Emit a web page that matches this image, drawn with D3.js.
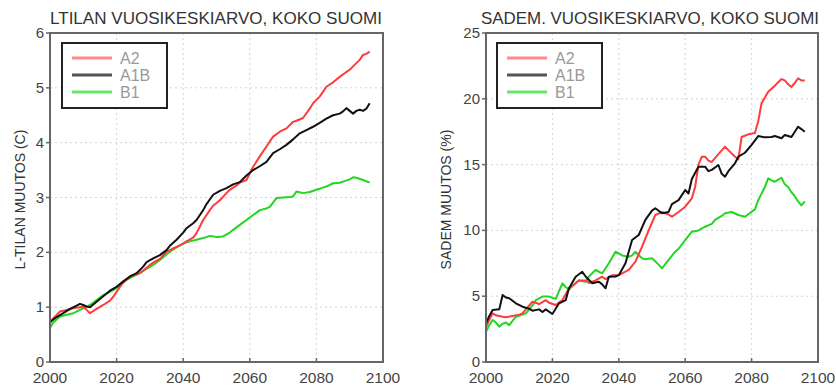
<!DOCTYPE html>
<html>
<head>
<meta charset="utf-8">
<script src="https://cdn.jsdelivr.net/npm/d3@7"></script>
<style>
  body { margin: 0; background: #fff; }
  svg { display: block; font-family: "Liberation Sans", Arial, sans-serif; }
</style>
</head>
<body>
<div id="chart"></div>
<script>
// scenario names and colours
var scenarios = ["A2", "A1B", "B1"];
var colors = ["#ff3b3b", "#111111", "#22d622"];
var legendColors = ["#ff8a8a", "#555555", "#66e666"];

var xTicks = [2000, 2020, 2040, 2060, 2080, 2100];
var tempTicks = [0, 1, 2, 3, 4, 5, 6];
var precTicks = [0, 5, 10, 15, 20, 25];

// temperature change (C), [year, value]
var tempA2 = [[2000,0.71],[2001,0.8],[2003,0.92],[2005,0.95],[2007,0.98],[2009,1.0],[2010,1.01],[2011,0.95],[2012,0.89],[2014,0.97],[2016,1.04],[2018,1.12],[2019,1.19],[2021,1.37],[2022,1.45],[2024,1.56],[2026,1.6],[2027,1.62],[2029,1.72],[2030,1.77],[2032,1.85],[2033,1.88],[2035,2.01],[2037,2.07],[2038,2.1],[2040,2.16],[2041,2.2],[2043,2.27],[2044,2.35],[2046,2.59],[2048,2.77],[2049,2.85],[2051,2.95],[2053,3.08],[2054,3.14],[2056,3.22],[2057,3.27],[2059,3.32],[2061,3.56],[2063,3.75],[2065,3.93],[2067,4.11],[2069,4.2],[2071,4.26],[2073,4.38],[2074,4.4],[2076,4.45],[2078,4.62],[2079,4.72],[2081,4.84],[2083,5.02],[2085,5.1],[2087,5.2],[2089,5.29],[2090,5.33],[2092,5.45],[2093,5.51],[2094,5.6],[2095,5.62],[2096,5.66]];
var tempA1B = [[2000,0.73],[2002,0.82],[2004,0.89],[2006,0.97],[2008,1.03],[2009,1.06],[2010,1.04],[2011,1.01],[2012,1.0],[2014,1.1],[2016,1.2],[2018,1.3],[2020,1.37],[2022,1.47],[2024,1.56],[2026,1.62],[2028,1.74],[2029,1.82],[2031,1.89],[2033,1.95],[2035,2.04],[2036,2.12],[2038,2.23],[2040,2.36],[2041,2.44],[2043,2.53],[2044,2.59],[2046,2.77],[2047,2.88],[2049,3.05],[2051,3.12],[2053,3.17],[2055,3.24],[2057,3.28],[2059,3.4],[2061,3.5],[2063,3.57],[2065,3.65],[2067,3.81],[2069,3.88],[2071,3.96],[2073,4.06],[2075,4.17],[2077,4.23],[2079,4.29],[2081,4.36],[2083,4.44],[2085,4.5],[2087,4.53],[2088,4.57],[2089,4.63],[2090,4.58],[2091,4.53],[2092,4.58],[2093,4.6],[2094,4.58],[2095,4.62],[2096,4.72]];
var tempB1 = [[2000,0.62],[2001,0.72],[2003,0.83],[2005,0.86],[2007,0.89],[2009,0.95],[2010,0.98],[2012,1.04],[2014,1.13],[2016,1.22],[2018,1.28],[2019,1.31],[2021,1.4],[2023,1.5],[2025,1.56],[2027,1.62],[2029,1.7],[2031,1.77],[2033,1.86],[2035,1.96],[2036,2.01],[2038,2.09],[2040,2.16],[2042,2.2],[2044,2.23],[2046,2.26],[2048,2.3],[2050,2.28],[2052,2.29],[2054,2.36],[2055,2.41],[2057,2.5],[2059,2.59],[2061,2.68],[2063,2.77],[2065,2.8],[2066,2.83],[2068,2.99],[2070,3.0],[2072,3.01],[2073,3.02],[2074,3.11],[2076,3.08],[2078,3.1],[2080,3.14],[2082,3.18],[2083,3.2],[2085,3.26],[2087,3.27],[2088,3.29],[2090,3.33],[2091,3.37],[2092,3.36],[2094,3.32],[2096,3.27]];

// precipitation change (%), [year, value]
var precA2 = [[2000,2.68],[2001,3.2],[2002,3.7],[2003,3.55],[2005,3.44],[2006,3.4],[2008,3.5],[2010,3.6],[2011,3.7],[2012,4.0],[2014,4.58],[2015,4.5],[2016,4.4],[2018,4.7],[2019,4.5],[2021,4.33],[2023,4.7],[2025,5.6],[2027,5.98],[2028,6.2],[2030,6.2],[2031,6.0],[2033,6.2],[2035,6.48],[2036,6.3],[2038,6.6],[2040,6.6],[2041,6.74],[2043,7.0],[2045,7.62],[2047,8.76],[2049,10.0],[2051,11.17],[2053,11.4],[2055,11.2],[2056,11.04],[2058,11.4],[2060,11.8],[2062,12.44],[2063,13.3],[2064,15.0],[2065,15.6],[2066,15.6],[2067,15.3],[2068,15.2],[2070,15.8],[2072,16.36],[2073,16.1],[2075,15.6],[2076,15.4],[2077,17.1],[2079,17.3],[2081,17.4],[2082,18.3],[2083,19.66],[2085,20.54],[2087,21.0],[2089,21.5],[2090,21.4],[2091,21.1],[2092,20.9],[2093,21.2],[2094,21.55],[2095,21.4],[2096,21.4]];
var precA1B = [[2000,2.94],[2001,3.5],[2002,3.95],[2004,4.0],[2005,5.09],[2006,4.9],[2007,4.85],[2009,4.46],[2011,4.2],[2013,4.05],[2014,3.9],[2016,4.0],[2017,3.8],[2018,4.0],[2020,3.65],[2022,4.46],[2024,4.7],[2025,5.6],[2027,6.48],[2029,6.86],[2030,6.5],[2032,5.98],[2034,6.1],[2035,5.9],[2036,5.6],[2037,6.48],[2039,6.5],[2040,6.6],[2042,7.5],[2044,9.27],[2046,9.65],[2048,10.8],[2050,11.5],[2051,11.68],[2053,11.3],[2055,11.4],[2056,12.0],[2058,12.3],[2060,13.07],[2061,12.8],[2062,13.9],[2064,14.84],[2066,14.84],[2067,14.5],[2068,14.6],[2070,14.97],[2071,14.3],[2072,14.08],[2073,14.5],[2075,15.1],[2076,15.6],[2078,15.9],[2080,16.5],[2082,17.17],[2084,17.07],[2086,17.1],[2087,17.17],[2089,17.0],[2090,17.25],[2092,17.1],[2094,17.88],[2095,17.7],[2096,17.5]];
var precB1 = [[2000,2.3],[2001,2.8],[2002,3.19],[2003,3.0],[2004,2.68],[2005,2.9],[2006,3.0],[2007,2.8],[2009,3.44],[2011,3.6],[2012,3.7],[2014,4.3],[2015,4.7],[2017,4.97],[2019,4.97],[2021,4.8],[2023,5.98],[2024,5.7],[2025,5.5],[2027,6.0],[2028,6.2],[2030,6.1],[2031,6.5],[2033,6.99],[2035,6.74],[2037,7.5],[2039,8.38],[2041,8.1],[2043,8.0],[2044,8.1],[2045,8.38],[2047,7.88],[2048,7.8],[2050,7.88],[2052,7.4],[2053,7.12],[2055,7.76],[2057,8.38],[2058,8.6],[2060,9.27],[2062,9.9],[2064,10.0],[2066,10.28],[2068,10.5],[2069,10.8],[2071,11.1],[2072,11.3],[2074,11.4],[2076,11.17],[2078,11.04],[2080,11.42],[2081,11.6],[2082,12.3],[2084,13.3],[2085,13.96],[2086,13.8],[2087,13.7],[2089,14.0],[2090,13.5],[2091,13.3],[2092,12.9],[2093,12.6],[2094,12.2],[2095,11.9],[2096,12.2]];

var panels = [
  { title: "LTILAN VUOSIKESKIARVO, KOKO SUOMI", ylabel: "L-TILAN MUUTOS (C)",
    left: 50, right: 383, top: 33, bottom: 362, ymax: 6, yTicks: tempTicks,
    series: [tempA2, tempA1B, tempB1], titleX: 50, titleW: 332, ylabX: 20, legX: 62 },
  { title: "SADEM. VUOSIKESKIARVO, KOKO SUOMI", ylabel: "SADEM MUUTOS (%)",
    left: 486, right: 818, top: 33, bottom: 362, ymax: 25, yTicks: precTicks,
    series: [precA2, precA1B, precB1], titleX: 481, titleW: 338, ylabX: 446, legX: 497 }
];

var svg = d3.select("#chart").append("svg")
    .attr("width", 836)
    .attr("height", 390);

panels.forEach(function (p) {
  var x = d3.scaleLinear().domain([2000, 2100]).range([p.left, p.right]);
  var y = d3.scaleLinear().domain([0, p.ymax]).range([p.bottom, p.top]);
  var g = svg.append("g");

  // dotted grid
  g.selectAll(".vgrid").data(xTicks.slice(1, -1)).enter().append("line")
      .attr("x1", d => x(d)).attr("x2", d => x(d))
      .attr("y1", p.top).attr("y2", p.bottom)
      .attr("stroke", "#d4d4d4").attr("stroke-width", 1)
      .attr("stroke-dasharray", "2,3");
  g.selectAll(".hgrid").data(p.yTicks.slice(1, -1)).enter().append("line")
      .attr("x1", p.left).attr("x2", p.right)
      .attr("y1", d => y(d)).attr("y2", d => y(d))
      .attr("stroke", "#d4d4d4").attr("stroke-width", 1)
      .attr("stroke-dasharray", "2,3");

  // data lines, B1 first so A2 / A1B sit on top
  var line = d3.line().x(d => x(d[0])).y(d => y(d[1]));
  [2, 0, 1].forEach(function (i) {
    g.append("path")
        .datum(p.series[i])
        .attr("d", line)
        .attr("fill", "none")
        .attr("stroke", colors[i])
        .attr("stroke-width", 2)
        .attr("stroke-linejoin", "round");
  });

  // frame
  g.append("rect")
      .attr("x", p.left).attr("y", p.top)
      .attr("width", p.right - p.left).attr("height", p.bottom - p.top)
      .attr("fill", "none").attr("stroke", "#666").attr("stroke-width", 2);

  // ticks
  g.selectAll(".xt").data(xTicks).enter().append("line")
      .attr("x1", d => x(d)).attr("x2", d => x(d))
      .attr("y1", p.bottom).attr("y2", p.bottom - 4)
      .attr("stroke", "#666").attr("stroke-width", 1.5);
  g.selectAll(".yt").data(p.yTicks).enter().append("line")
      .attr("x1", p.left - 4).attr("x2", p.left)
      .attr("y1", d => y(d)).attr("y2", d => y(d))
      .attr("stroke", "#666").attr("stroke-width", 1.5);

  // tick labels
  g.selectAll(".xl").data(xTicks).enter().append("text")
      .attr("x", d => x(d)).attr("y", p.bottom + 21)
      .attr("text-anchor", "middle")
      .attr("font-size", 15.5).attr("fill", "#444")
      .text(d => d);
  g.selectAll(".yl").data(p.yTicks).enter().append("text")
      .attr("x", p.left - 6).attr("y", d => y(d) + 5)
      .attr("text-anchor", "end")
      .attr("font-size", 15).attr("fill", "#444")
      .text(d => d);

  // title
  g.append("text")
      .attr("x", p.titleX).attr("y", 24)
      .attr("font-size", 17).attr("fill", "#333")
      .attr("textLength", p.titleW).attr("lengthAdjust", "spacingAndGlyphs")
      .text(p.title);

  // y axis label
  var ymid = (p.top + p.bottom) / 2 + 2;
  g.append("text")
      .attr("transform", "translate(" + (p.ylabX + 5) + "," + ymid + ") rotate(-90)")
      .attr("text-anchor", "middle")
      .attr("font-size", 14).attr("fill", "#333")
      .text(p.ylabel);

  // legend
  var lg = g.append("g").attr("transform", "translate(" + p.legX + ",43)");
  lg.append("rect")
      .attr("width", 105).attr("height", 65)
      .attr("fill", "#fff").attr("stroke", "#222").attr("stroke-width", 2);
  scenarios.forEach(function (s, i) {
    var ly = 15 + i * 17;
    lg.append("line")
        .attr("x1", 10).attr("x2", 50)
        .attr("y1", ly).attr("y2", ly)
        .attr("stroke", legendColors[i]).attr("stroke-width", 3);
    lg.append("text")
        .attr("x", 58).attr("y", ly + 6)
        .attr("font-size", 16).attr("fill", "#999")
        .text(s);
  });
});
</script>
</body>
</html>
